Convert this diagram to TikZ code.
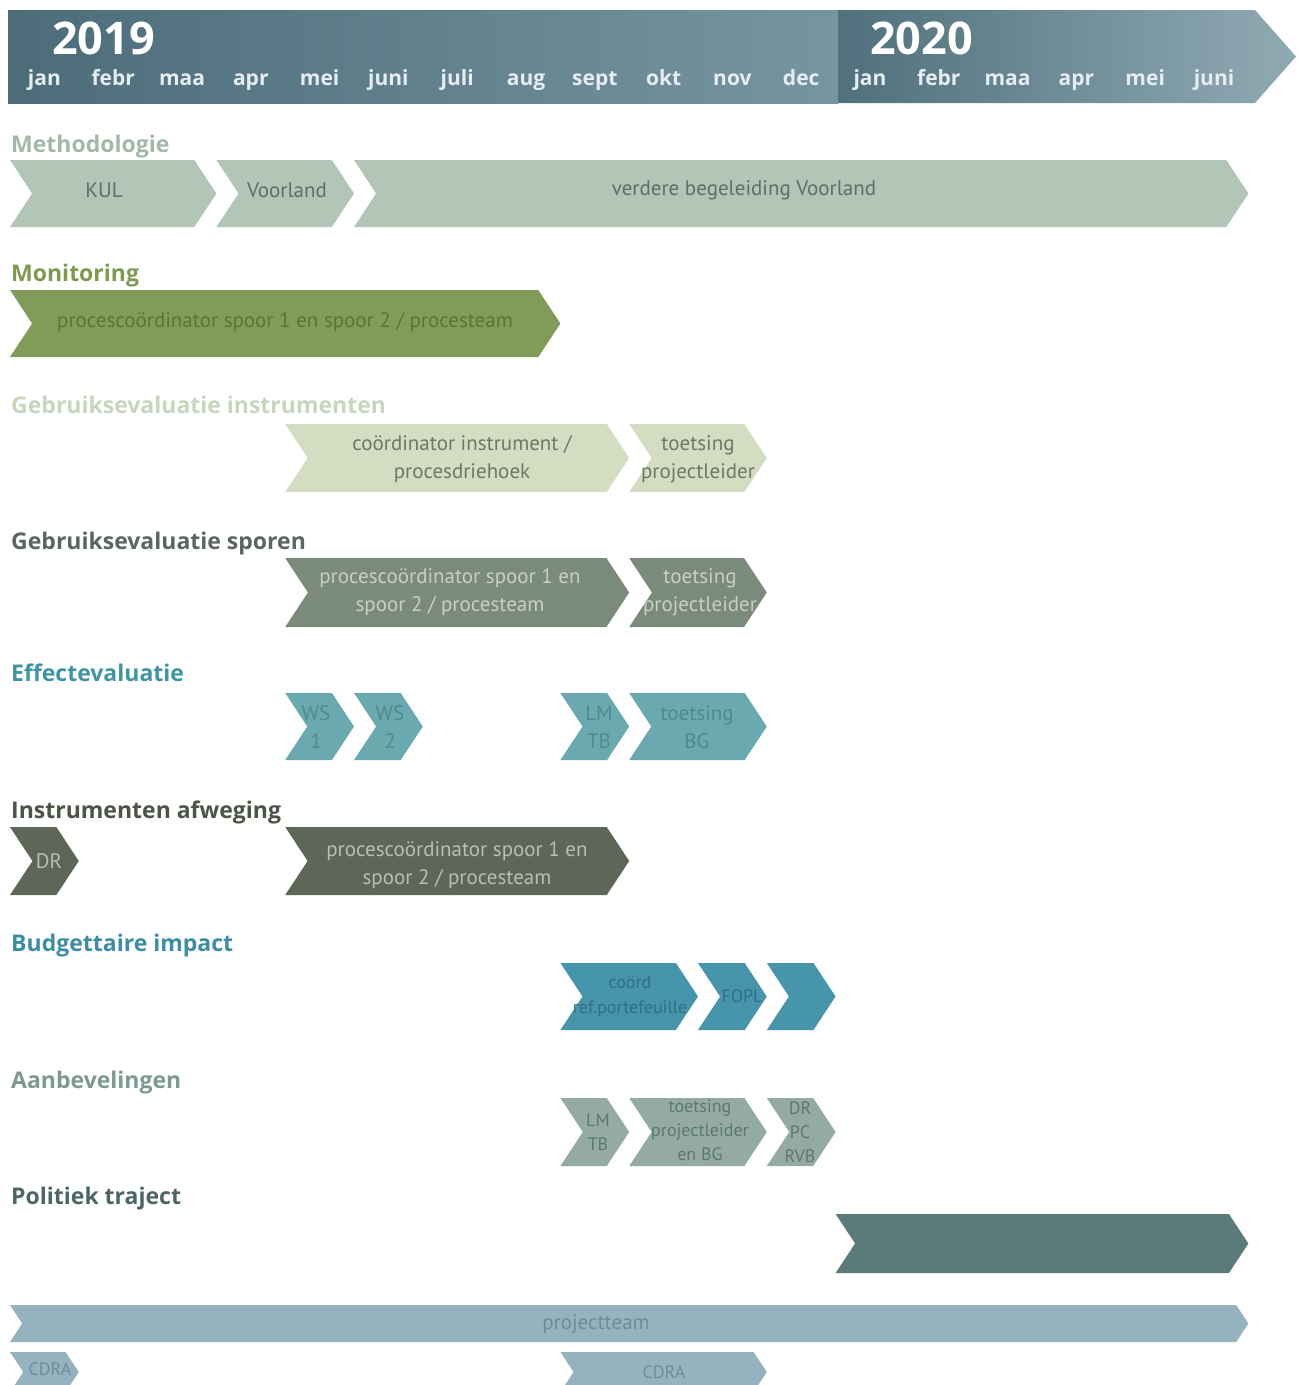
\documentclass[tikz,border=0pt]{standalone}
\usepackage{fontspec}
\setmainfont{Open Sans}
\newfontfamily\chevfont{PT Sans}
\definecolor{hdA}{HTML}{4C6C7A}
\definecolor{hdB}{HTML}{7795A0}
\definecolor{hdC}{HTML}{50707D}
\definecolor{hdD}{HTML}{90AAB3}
\definecolor{hdtext}{HTML}{E6EDF0}
\definecolor{methfill}{HTML}{B2C6B8}
\definecolor{methlab}{HTML}{A3B8AB}
\definecolor{methtext}{HTML}{5F6E66}
\definecolor{monfill}{HTML}{819B58}
\definecolor{monlab}{HTML}{7F9A50}
\definecolor{montext}{HTML}{5A7535}
\definecolor{insfill}{HTML}{D4DCC2}
\definecolor{inslab}{HTML}{C9D5BD}
\definecolor{instext}{HTML}{6E7866}
\definecolor{spfill}{HTML}{7A8A7B}
\definecolor{splab}{HTML}{5B6660}
\definecolor{sptext}{HTML}{C8D0C6}
\definecolor{efffill}{HTML}{6AA9AF}
\definecolor{efflab}{HTML}{3F95A3}
\definecolor{efftext}{HTML}{4F8A91}
\definecolor{afwfill}{HTML}{5E6657}
\definecolor{afwlab}{HTML}{4C5447}
\definecolor{afwtext}{HTML}{B9BFAE}
\definecolor{budfill}{HTML}{4795AB}
\definecolor{budlab}{HTML}{3D8DA5}
\definecolor{budtext}{HTML}{2F7084}
\definecolor{aanfill}{HTML}{93ABA1}
\definecolor{aanlab}{HTML}{7C9A8F}
\definecolor{aantext}{HTML}{5C7870}
\definecolor{polfill}{HTML}{5B7B7A}
\definecolor{pollab}{HTML}{4E6565}
\definecolor{ptfill}{HTML}{95B2BF}
\definecolor{pttext}{HTML}{6E8D9A}
\newcommand\chev[6]{%
  \pgfmathsetmacro\chXa{10+68.8*#2}%
  \pgfmathsetmacro\chXb{10+68.8*#3}%
  \pgfmathsetmacro\chDd{0.33*(#5-#4)}%
  \pgfmathsetmacro\chYm{(#4+#5)/2}%
  \fill[#6] (\chXa,#4) -- ({\chXb-\chDd},#4) -- (\chXb,\chYm) -- ({\chXb-\chDd},#5) -- (\chXa,#5) -- ({\chXa+\chDd},\chYm) -- cycle;
  \coordinate (#1) at ({(\chXa+\chXb)/2},\chYm);
}
\begin{document}
\begin{tikzpicture}[x=1pt,y=-1pt,
  lab/.style={anchor=base west, inner sep=0, font=\bfseries\fontsize{23}{26}\selectfont},
  mon/.style={anchor=base, inner sep=0, text=hdtext, font=\bfseries\fontsize{21}{24}\selectfont},
  yr/.style={anchor=base west, inner sep=0, text=white, font=\bfseries\fontsize{45}{50}\selectfont},
  ct/.style={inner sep=0, align=center, font=\chevfont\fontsize{21}{28}\selectfont},
  cts/.style={inner sep=0, align=center, font=\chevfont\fontsize{18}{24}\selectfont}]
\useasboundingbox (0,0) rectangle (1308,1385);
\clip (0,0) rectangle (1308,1385);
\fill[white] (0,0) rectangle (1308,1385);
% header
\shade[left color=hdA, right color=hdB] (8,10) rectangle (838,103);
\shade[left color=hdC, right color=hdD] (838,10) -- (1255,10) -- (1296,56.5) -- (1255,103) -- (838,103) -- cycle;
\node[yr] (y2019) at (52,54) {2019};
\node[yr] (y2020) at (870,54) {2020};
\foreach \m [count=\i from 0] in {jan,febr,maa,apr,mei,juni,juli,aug,sept,okt,nov,dec,jan,febr,maa,apr,mei,juni}
  \node[mon] (m\i) at ({44.4+68.8*\i},85) {\m};
% labels
\node[lab, text=methlab] (l1) at (11,152) {Methodologie};
\node[lab, text=monlab] (l2) at (11,281) {Monitoring};
\node[lab, text=inslab] (l3) at (11,413) {Gebruiksevaluatie instrumenten};
\node[lab, text=splab] (l4) at (11,549) {Gebruiksevaluatie sporen};
\node[lab, text=efflab] (l5) at (11,681) {Effectevaluatie};
\node[lab, text=afwlab] (l6) at (11,818) {Instrumenten afweging};
\node[lab, text=budlab] (l7) at (11,951) {Budgettaire impact};
\node[lab, text=aanlab] (l8) at (11,1088) {Aanbevelingen};
\node[lab, text=pollab] (l9) at (11,1204) {Politiek traject};
% chevrons
\chev{kul}{0}{3}{160}{227}{methfill}
\chev{voor}{3}{5}{160}{227}{methfill}
\chev{verd}{5}{18}{160}{227}{methfill}
\chev{moni}{0}{8}{290}{357}{monfill}
\chev{ins1}{4}{9}{424}{492}{insfill}
\chev{ins2}{9}{11}{424}{492}{insfill}
\chev{sp1}{4}{9}{558}{627}{spfill}
\chev{sp2}{9}{11}{558}{627}{spfill}
\chev{ws1}{4}{5}{693}{760}{efffill}
\chev{ws2}{5}{6}{693}{760}{efffill}
\chev{lmtb}{8}{9}{693}{760}{efffill}
\chev{tbg}{9}{11}{693}{760}{efffill}
\chev{dr}{0}{1}{827}{895}{afwfill}
\chev{afw}{4}{9}{827}{895}{afwfill}
\chev{coord}{8}{10}{963}{1030}{budfill}
\chev{fopl}{10}{11}{963}{1030}{budfill}
\chev{bx}{11}{12}{963}{1030}{budfill}
\chev{lm2}{8}{9}{1098}{1166}{aanfill}
\chev{tpl}{9}{11}{1098}{1166}{aanfill}
\chev{dpr}{11}{12}{1098}{1166}{aanfill}
\chev{pol}{12}{18}{1214}{1273}{polfill}
\chev{pteam}{0}{18}{1305}{1342}{ptfill}
\chev{cdra1}{0}{1}{1352}{1392}{ptfill}
\chev{cdra2}{8}{11}{1352}{1392}{ptfill}
% chevron texts
\node[ct, text=methtext] (kul-t) at (104,190) {KUL};
\node[ct, text=methtext] (voor-t) at (287,190) {Voorland};
\node[ct, text=methtext] (verd-t) at (744,190) {verdere begeleiding Voorland};
\node[ct, text=montext] (moni-t) at (285,322) {procescoördinator spoor 1 en spoor 2 / procesteam};
\node[ct, text=instext] (ins1-t) at (462,459) {coördinator instrument /\\procesdriehoek};
\node[ct, text=instext] (ins2-t) at (698,459) {toetsing\\projectleider};
\node[ct, text=sptext] (sp1-t) at (450,592) {procescoördinator spoor 1 en\\spoor 2 / procesteam};
\node[ct, text=sptext] (sp2-t) at (700,592) {toetsing\\projectleider};
\node[ct, text=efftext] (ws1-t) at (316,727) {WS\\1};
\node[ct, text=efftext] (ws2-t) at (390,727) {WS\\2};
\node[ct, text=efftext] (lmtb-t) at (599,727) {LM\\TB};
\node[ct, text=efftext] (tbg-t) at (697,727) {toetsing\\BG};
\node[ct, text=afwtext] (dr-t) at (49,861) {DR};
\node[ct, text=afwtext] (afw-t) at (457,865) {procescoördinator spoor 1 en\\spoor 2 / procesteam};
\node[cts, text=budtext, font=\chevfont\fontsize{18}{25}\selectfont] (coord-t) at (630,996) {coörd\\ref.portefeuille};
\node[cts, text=budtext] (fopl-t) at (742,996) {FOPL};
\node[cts, text=aantext] (lm2-t) at (598,1132) {LM\\TB};
\node[cts, text=aantext] (tpl-t) at (700,1130) {toetsing\\projectleider\\en BG};
\node[cts, text=aantext] (dpr-t) at (800,1132) {DR\\PC\\RVB};
\node[ct, text=pttext] (pteam-t) at (596,1324) {projectteam};
\node[cts, text=pttext] (cdra1-t) at (50,1369) {CDRA};
\node[cts, text=pttext] (cdra2-t) at (664,1372) {CDRA};
\end{tikzpicture}
\end{document}
